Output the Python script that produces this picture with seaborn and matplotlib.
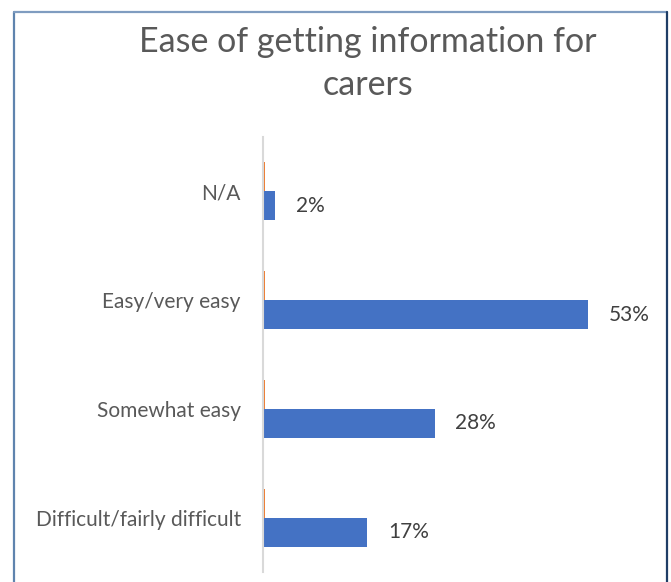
import matplotlib
matplotlib.use("Agg")
import matplotlib.pyplot as plt
from matplotlib.lines import Line2D
import seaborn as sns
import pandas as pd

categories = ["N/A", "Easy/very easy", "Somewhat easy", "Difficult/fairly difficult"]
blue_values = [2, 53, 28, 17]
orange_values = [0.25, 0.25, 0.25, 0.25]
series_names = ["Series2", "Series1"]

df = pd.DataFrame({
    "category": categories * 2,
    "value": orange_values + blue_values,
    "series": [series_names[0]] * len(categories) + [series_names[1]] * len(categories),
})

sns.set_theme(style="white")
plt.rcParams["font.family"] = ["Lato", "DejaVu Sans"]

W, H = 671, 582
fig = plt.figure(figsize=(W / 100, H / 100), dpi=100)
ax = fig.add_axes([263 / W, 1 - 572 / H, (651 - 263) / W, (572 - 137) / H])

sns.barplot(data=df, y="category", x="value", hue="series", order=categories,
            hue_order=series_names, palette=["#ED7D31", "#4472C4"],
            width=0.534, gap=0, dodge=True, legend=False, ax=ax,
            saturation=1, linewidth=0, orient="h")

ax.set_xlim(0, (651 - 263) / 6.13)
ax.set_ylim(3.5, -0.5)
ax.set_xlabel("")
ax.set_ylabel("")
ax.set_xticks([])
for s in ["top", "right", "bottom"]:
    ax.spines[s].set_visible(False)
ax.spines["left"].set_color("#D9D9D9")
ax.spines["left"].set_linewidth(1.5)
ax.tick_params(axis="y", length=0, pad=16, labelsize=15, labelcolor="#595959")

blue_container = ax.containers[1]
ax.bar_label(blue_container, labels=[f"{v}%" for v in blue_values], padding=15,
             fontsize=15, color="#404040")

fig.text(368 / W, 1 - 95 / H, "Ease of getting information for\ncarers",
         ha="center", va="baseline", fontsize=24.5, color="#595959", linespacing=1.41)

fig.add_artist(Line2D([14 / W, 14 / W], [0, 1 - 12 / H], transform=fig.transFigure,
                      color="#5F84AE", lw=1.6))
fig.add_artist(Line2D([14 / W, 667 / W], [1 - 12 / H, 1 - 12 / H], transform=fig.transFigure,
                      color="#7F9CC0", lw=1.6))
fig.add_artist(Line2D([667 / W, 667 / W], [0, 1 - 12 / H], transform=fig.transFigure,
                      color="#1F3E66", lw=1.6))

fig.savefig("out.png", dpi=100)
